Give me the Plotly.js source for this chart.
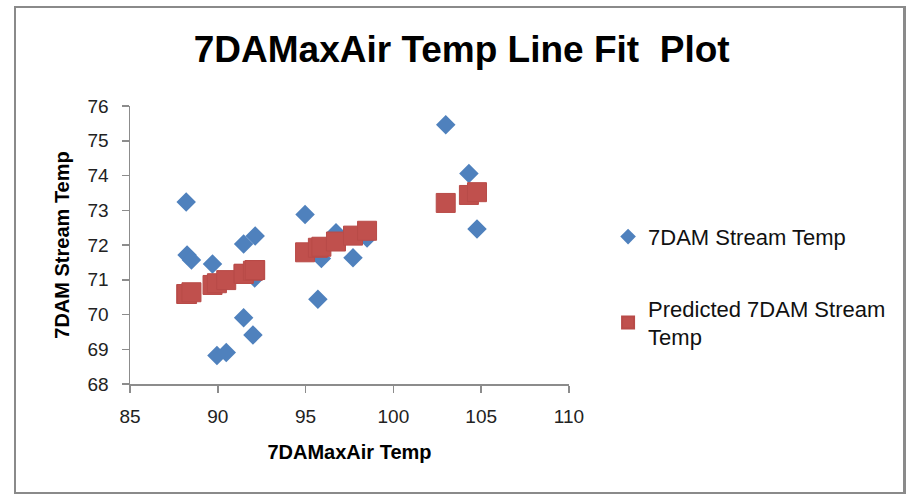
<!DOCTYPE html>
<html>
<head>
<meta charset="utf-8">
<script src="https://cdn.plot.ly/plotly-3.0.1.min.js"></script>
<style>
  html, body { margin: 0; padding: 0; background: #fff; }
  #wrap { position: relative; width: 907px; height: 495px; }
  #chart { position: absolute; left: 0; top: 0; width: 907px; height: 495px; }
  #frame { position: absolute; left: 14px; top: 6px; width: 892px; height: 488px;
           border: 2px solid #8a8a8a; border-right-width: 3px; box-sizing: border-box; pointer-events: none; }
</style>
</head>
<body>
<div id="wrap">
  <div id="chart"></div>
  <div id="frame"></div>
</div>
<script>
// Independent variable: 7DAMaxAir Temp
const airTemp = [88.2, 88.25, 88.5, 89.7, 89.95, 90.48, 91.47, 91.47, 92.0, 92.13,
                 92.1, 94.97, 95.7, 95.9, 96.73, 97.7, 98.5, 102.98, 104.3, 104.76];
// Observed 7DAM Stream Temp
const streamTemp = [73.24, 71.71, 71.57, 71.45, 68.82, 68.91, 72.03, 69.91, 69.41, 72.26,
                    71.05, 72.88, 70.44, 71.61, 72.35, 71.63, 72.2, 75.46, 74.06, 72.46];
// Predicted 7DAM Stream Temp
const predictedTemp = [70.59, 70.59, 70.64, 70.85, 70.90, 70.99, 71.17, 71.17, 71.26, 71.28,
                       71.28, 71.79, 71.92, 71.95, 72.10, 72.27, 72.41, 73.21, 73.44, 73.52];

const xTicks = [85, 90, 95, 100, 105, 110];
const yTicks = [68, 69, 70, 71, 72, 73, 74, 75, 76];

const FONT = '"Liberation Sans Narrow", "Liberation Sans", Arial, sans-serif';

const traces = [
  {
    x: airTemp, y: streamTemp, type: 'scatter', mode: 'markers',
    name: '7DAM Stream Temp', legendgroup: 'a',
    marker: { symbol: 'diamond', size: 15, color: '#4F81BD', line: { width: 0 } }
  },
  {
    x: airTemp, y: predictedTemp, type: 'scatter', mode: 'markers',
    name: 'Predicted 7DAM Stream<br>Temp', legendgroup: 'b',
    marker: { symbol: 'square', size: 19, color: '#C0504D', line: { width: 1, color: '#B84B48' } }
  }
];

const layout = {
  width: 907, height: 495,
  paper_bgcolor: '#ffffff', plot_bgcolor: '#ffffff',
  margin: { l: 129.5, r: 337.5, t: 105.7, b: 111, pad: 0 },
  font: { family: FONT, color: '#222', size: 16 },
  title: {
    text: '<b>7DAMaxAir Temp Line Fit  Plot</b>',
    font: { family: FONT, size: 37, color: '#000' },
    x: 0.509, xanchor: 'center', y: 0.9, yanchor: 'middle', yref: 'container'
  },
  xaxis: {
    range: [85, 110], tickvals: xTicks, ticktext: xTicks.map(String),
    showgrid: false, zeroline: false, showline: true, linecolor: '#8c8c8c', linewidth: 1.5,
    ticks: 'outside', ticklen: 7, tickcolor: '#8c8c8c', tickwidth: 1.5,
    ticklabelstandoff: 8,
    tickfont: { family: FONT, size: 19, color: '#222' },
    title: { text: '<b>7DAMaxAir Temp</b>', font: { family: FONT, size: 20, color: '#000' }, standoff: 18 }
  },
  yaxis: {
    range: [68, 76], tickvals: yTicks, ticktext: yTicks.map(String),
    showgrid: false, zeroline: false, showline: true, linecolor: '#8c8c8c', linewidth: 1.5,
    ticks: 'outside', ticklen: 7, tickcolor: '#8c8c8c', tickwidth: 1.5,
    ticklabelstandoff: 9,
    tickfont: { family: FONT, size: 19, color: '#222' },
    title: { text: '<b>7DAM Stream Temp</b>', font: { family: FONT, size: 20, color: '#000' }, standoff: 12 }
  },
  showlegend: true,
  legend: {
    x: 1.089, xanchor: 'left', y: 0.605, yanchor: 'top',
    font: { family: FONT, size: 22, color: '#111' },
    traceorder: 'grouped', tracegroupgap: 40, itemsizing: 'constant',
    bgcolor: 'rgba(0,0,0,0)'
  }
};

Plotly.newPlot('chart', traces, layout, { displayModeBar: false, staticPlot: true });
</script>
</body>
</html>
